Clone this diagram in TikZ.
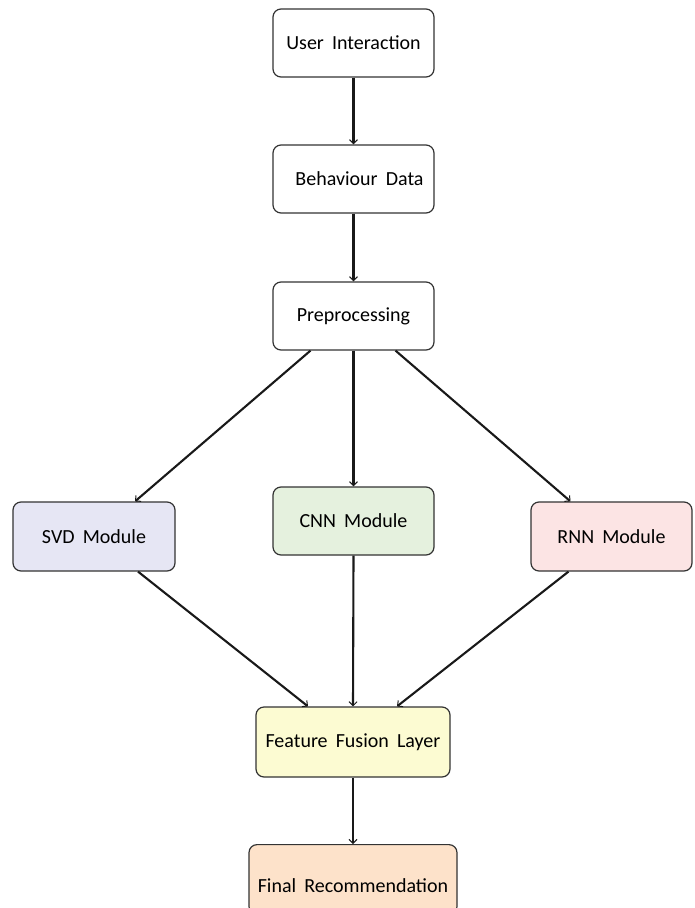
\documentclass[tikz,border=0pt]{standalone}
\usepackage{fontspec}
\setmainfont[WordSpace=1.8]{Carlito}
\usetikzlibrary{arrows.meta}
\definecolor{svdc}{HTML}{E6E6F4}
\definecolor{cnnc}{HTML}{E5F1DE}
\definecolor{rnnc}{HTML}{FCE4E4}
\definecolor{ffc}{HTML}{FCFBD2}
\definecolor{finc}{HTML}{FDE2CA}
\definecolor{edgec}{HTML}{333333}
\begin{document}
\begin{tikzpicture}[x=1pt,y=-1pt,
  box/.style={draw=edgec,line width=1.2pt,rounded corners=8pt,fill=white,inner sep=0pt,
    font=\fontsize{20}{22}\selectfont},
  conn/.style={line width=2.1pt,draw=black!90,-{Straight Barb[length=4pt,width=8pt,line width=1pt]}}]
\useasboundingbox (0,0) rectangle (695,908);
\node[box,minimum width=161pt,minimum height=68pt] (ui) at (353.5,43) {User Interaction};
\node[box,minimum width=161pt,minimum height=68pt] (bd) at (353.5,179) {\hspace*{12pt}Behaviour Data};
\node[box,minimum width=161pt,minimum height=68pt] (pp) at (353.5,316) {Preprocessing};
\node[box,fill=svdc,minimum width=162pt,minimum height=69pt] (svd) at (94,536.5) {SVD Module};
\node[box,fill=cnnc,minimum width=161pt,minimum height=68pt] (cnn) at (353.5,521) {CNN Module};
\node[box,fill=rnnc,minimum width=161pt,minimum height=69pt] (rnn) at (611.5,536.5) {RNN Module};
\node[box,fill=ffc,minimum width=194pt,minimum height=70pt] (ff) at (353,742) {Feature Fusion Layer};
\node[box,fill=finc,minimum width=208pt,minimum height=70pt,anchor=north] (fin) at (353,844) {};
\node[font=\fontsize{20}{22}\selectfont] (fint) at (353,886) {Final Recommendation};
\draw[conn] (ui.south) -- (bd.north);
\draw[conn] (bd.south) -- (pp.north);
\draw[conn] (pp.south) -- (cnn.north);
\draw[conn] ([xshift=-43pt]pp.south) -- ([xshift=41pt]svd.north);
\draw[conn] ([xshift=42pt]pp.south) -- ([xshift=-41pt]rnn.north);
\draw[conn] (cnn.south) -- (ff.north);
\draw[conn] ([xshift=44pt]svd.south) -- ([xshift=-45pt]ff.north);
\draw[conn] ([xshift=-43pt]rnn.south) -- ([xshift=44pt]ff.north);
\draw[conn] (ff.south) -- (fin.north);
\end{tikzpicture}
\end{document}
